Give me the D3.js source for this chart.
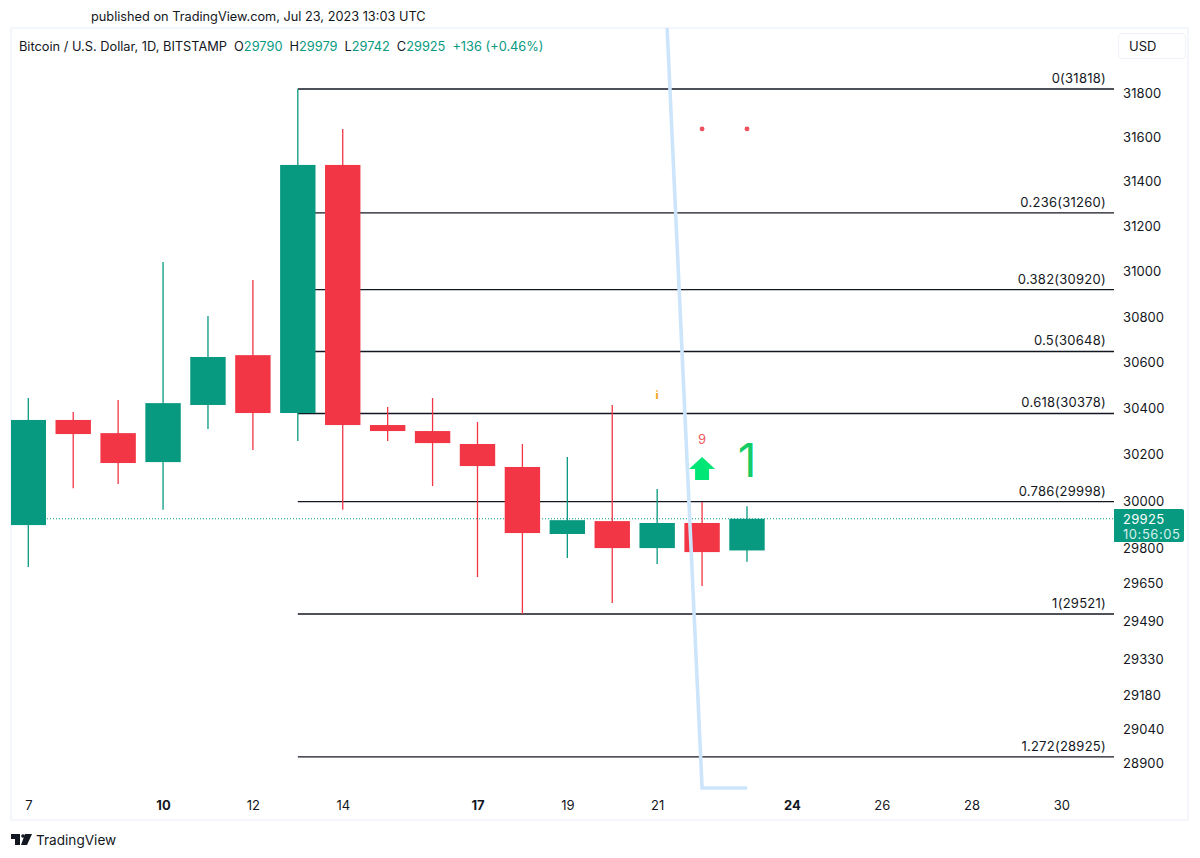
<!DOCTYPE html>
<html><head><meta charset="utf-8">
<script src="https://cdn.jsdelivr.net/npm/d3@7/dist/d3.min.js"></script>
<style>html,body{margin:0;padding:0;background:#fff}svg{display:block}text{font-family:Inter,"Noto Sans",sans-serif}</style>
</head><body><svg id="c" width="1200" height="858"></svg>
<script>
const days  = [7,8,9,10,11,12,13,14,15,16,17,18,19,20,21,22,23];
const opens = [29898,30350,30293,30168,30415,30632,30380,31475,30328,30302,30246,30147,29860,29915,29800,29907,29790];
const highs = [30445,30385,30437,31042,30804,30962,31818,31637,30406,30445,30341,30246,30190,30415,30052,29997,29979];
const lows  = [29720,30056,30074,29963,30311,30220,30259,29963,30259,30065,29677,29521,29758,29567,29732,29639,29742];
const closes= [30350,30289,30164,30423,30624,30380,31475,30328,30302,30250,30151,29864,29919,29800,29907,29783,29925];
const fibLevels = ["0","0.236","0.382","0.5","0.618","0.786","1","1.272"];
const fibPrices = [31818,31260,30920,30648,30378,29998,29521,28925];
const priceTicks = [31800,31600,31400,31200,31000,30800,30600,30400,30200,30000,29800,29650,29490,29330,29180,29040,28900];
const timeTicks = [7,10,12,14,17,19,21,24,26,28,30];
const boldTicks = [10,17,24];
const lineDays = [21,22,23];
const linePrices = [33106,28797,28797];
const dotDays = [22,23];
const dotPrices = [31637,31637];

const green="#089981", red="#f23645", ink="#131722";
const svg=d3.select("#c");
const pane={l:11,t:28,r:1188,b:820,plotR:1114};
const x=d3.scaleLinear().domain([7,23]).range([28.3,747]);
const y=d3.scaleLog().domain([31818,29521]).range([89,614]);

svg.append("defs").append("clipPath").attr("id","plot").append("rect")
  .attr("x",pane.l).attr("y",pane.t).attr("width",pane.plotR-pane.l).attr("height",pane.b-pane.t);
svg.append("rect").attr("x",pane.l).attr("y",pane.t).attr("width",pane.r-pane.l).attr("height",pane.b-pane.t)
  .attr("fill","#fff").attr("stroke","#f0f3fa").attr("stroke-width",1.5);

const plot=svg.append("g").attr("clip-path","url(#plot)");

// fib lines sit behind the candles
plot.selectAll("line.fib").data(fibPrices).join("line").attr("class","fib")
  .attr("x1",x(13)).attr("x2",pane.plotR).attr("y1",d=>y(d)).attr("y2",d=>y(d))
  .attr("stroke",ink).attr("stroke-width",1.3);
svg.selectAll("text.fib").data(fibPrices).join("text").attr("class","fib")
  .attr("x",1106).attr("y",d=>y(d)-6).attr("text-anchor","end").attr("font-size",13).attr("letter-spacing",0.25).attr("fill",ink)
  .text((d,i)=>`${fibLevels[i]}(${d})`);

// last price line
plot.append("line").attr("x1",pane.l).attr("x2",pane.plotR).attr("y1",y(closes[closes.length-1])).attr("y2",y(closes[closes.length-1]))
  .attr("stroke",green).attr("stroke-width",1).attr("stroke-dasharray","1 2");

// candles
const idx=d3.range(days.length);
plot.selectAll("line.wick").data(idx).join("line").attr("class","wick")
  .attr("x1",i=>x(days[i])).attr("x2",i=>x(days[i])).attr("y1",i=>y(highs[i])).attr("y2",i=>y(lows[i]))
  .attr("stroke",i=>closes[i]>=opens[i]?green:red).attr("stroke-width",1.3);
plot.selectAll("rect.body").data(idx).join("rect").attr("class","body")
  .attr("x",i=>x(days[i])-17.7).attr("width",35.4)
  .attr("y",i=>y(Math.max(opens[i],closes[i]))).attr("height",i=>Math.abs(y(opens[i])-y(closes[i])))
  .attr("fill",i=>closes[i]>=opens[i]?green:red);

// blue indicator line
plot.append("path").datum(lineDays.map((d,i)=>[d,linePrices[i]]))
  .attr("d",d3.line().x(d=>x(d[0])).y(d=>y(d[1])))
  .attr("fill","none").attr("stroke","#cde5fb").attr("stroke-width",3.6);

// dots
plot.selectAll("circle.dot").data(dotDays).join("circle").attr("class","dot")
  .attr("cx",d=>x(d)).attr("cy",(d,i)=>y(dotPrices[i])).attr("r",2.4).attr("fill","#f04f5c");

// annotations
svg.append("text").attr("x",x(21)).attr("y",399).attr("text-anchor","middle").attr("font-size",11).attr("font-weight",800).attr("fill","#f5a623").text("i");
svg.append("text").attr("x",x(22)).attr("y",444).attr("text-anchor","middle").attr("font-size",13).attr("fill","#ef5a62").text("9");
svg.append("path").attr("d",d3.line()([[0,0],[13,12],[7,12],[7,23],[-7,23],[-7,12],[-13,12]])+"Z")
  .attr("transform",`translate(${x(22)},457)`).attr("fill","#00e676");
svg.append("text").attr("x",x(23)).attr("y",477).attr("text-anchor","middle").attr("font-size",46).attr("font-weight",400).attr("fill","#14cc66").text("1");

// price axis
const yAxis=d3.axisRight(y).tickValues(priceTicks).tickSize(0).tickPadding(0).tickFormat(d3.format("d"));
const ga=svg.append("g").attr("transform",`translate(1123,0)`).call(yAxis);
ga.select(".domain").remove();
ga.selectAll("text").attr("font-size",13).attr("letter-spacing",0.1).attr("fill",ink).style("font-family","Inter,'Noto Sans',sans-serif");

// time axis
const xAxis=d3.axisBottom(x).tickValues(timeTicks).tickSize(0).tickPadding(0).tickFormat(d3.format("d"));
const gx=svg.append("g").attr("transform",`translate(0,801)`).call(xAxis);
gx.select(".domain").remove();
gx.selectAll("text").attr("font-size",13).attr("fill",ink)
  .attr("font-weight",d=>boldTicks.includes(d)?700:400).style("font-family","Inter,'Noto Sans',sans-serif");

// last price tag
const tagY=y(closes[closes.length-1]);
svg.append("path").attr("d","M1114 509H1182a2 2 0 0 1 2 2V540a2 2 0 0 1 -2 2H1114Z").attr("fill",green);
svg.append("text").attr("x",1123).attr("y",tagY+5).attr("font-size",13).attr("letter-spacing",0.3).attr("fill","#fff").text(closes[closes.length-1]);
svg.append("text").attr("x",1123).attr("y",tagY+20).attr("font-size",13).attr("letter-spacing",0.55).attr("fill","#d6f0ea").text("10:56:05");

// header
svg.append("text").attr("x",91).attr("y",21).attr("font-size",12.75).attr("fill",ink).text("published on TradingView.com, Jul 23, 2023 13:03 UTC");
const hdr=svg.append("text").attr("x",19).attr("y",50.5).attr("font-size",12.8).attr("fill",ink);
const last=days.length-1;
hdr.append("tspan").text("Bitcoin / U.S. Dollar, 1D, BITSTAMP");
[["O",opens[last]],["H",highs[last]],["L",lows[last]],["C",closes[last]]].forEach((p,i)=>{
  hdr.append("tspan").attr("dx",i?7:7).text(p[0]);
  hdr.append("tspan").attr("fill",green).text(p[1]);
});
hdr.append("tspan").attr("dx",7).attr("fill",green).text("+136 (+0.46%)");

// currency button
svg.append("rect").attr("x",1118.5).attr("y",33.5).attr("width",67).attr("height",25).attr("rx",4)
  .attr("fill","#fff").attr("stroke","#f0f3fa").attr("stroke-width",1.2);
svg.append("text").attr("x",1129).attr("y",51).attr("font-size",13).attr("fill",ink).text("USD");

// logo
svg.append("path").attr("fill",ink).attr("d","M11 834H20V845H15V839H11ZM25 834H32L27 845H21Z");
svg.append("circle").attr("cx",23).attr("cy",836).attr("r",1.8).attr("fill",ink);
svg.append("text").attr("x",36).attr("y",845).attr("font-size",13.6).attr("fill",ink).text("TradingView");
</script></body></html>
